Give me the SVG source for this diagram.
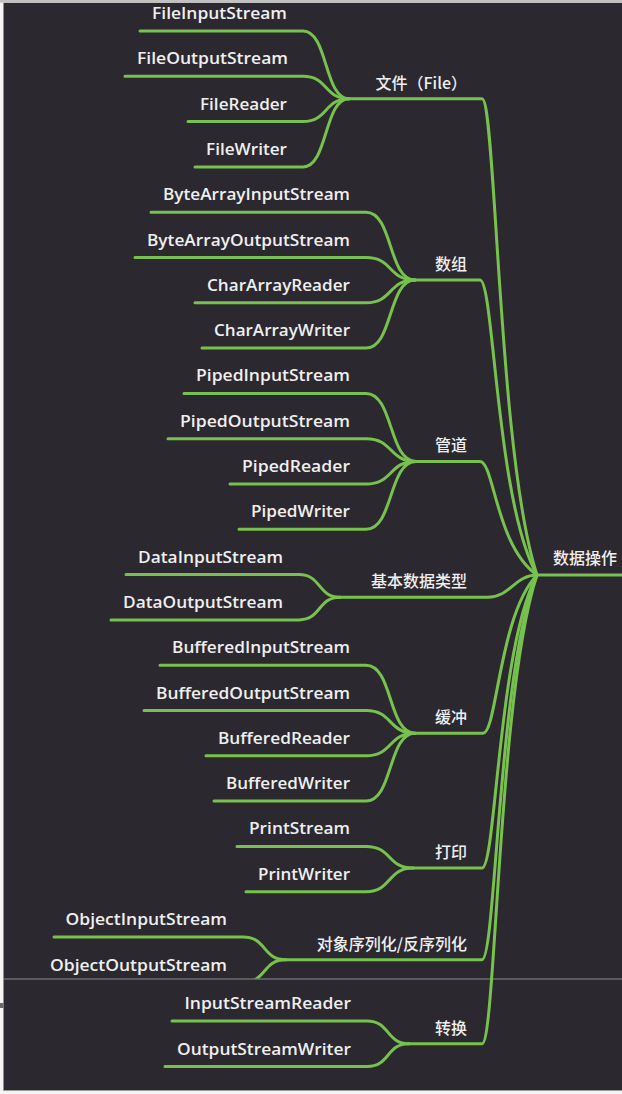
<svg xmlns="http://www.w3.org/2000/svg" width="622" height="1094" viewBox="0 0 622 1094">
<defs>
<style>
.bg{fill:#2b2830}
.ln{fill:none;stroke:#77c24e;stroke-width:3;stroke-linecap:round;stroke-linejoin:round}
.leaf{font-family:"Open Sans","DejaVu Sans",sans-serif;font-weight:600;font-size:15.5px;fill:#efefef;text-anchor:end}
.cat{font-family:"Noto Sans CJK SC","Noto Sans",sans-serif;font-weight:500;font-size:16px;fill:#efefef;text-anchor:end}
.root{font-family:"Noto Sans CJK SC","Noto Sans",sans-serif;font-weight:500;font-size:16px;fill:#efefef}
</style>
<clipPath id="upper"><rect x="0" y="0" width="622" height="978.5"/></clipPath>
</defs>
<rect x="0" y="0" width="622" height="1094" fill="#f4f4f4"/>
<rect class="bg" x="3.5" y="2.7" width="618.5" height="1088"/>
<rect x="0" y="0" width="622" height="2.7" fill="#c2c2c2"/>
<rect x="3.5" y="1090" width="618.5" height="1" fill="#9a9a9a"/>
<rect x="3.5" y="978.5" width="618.5" height="1" fill="#8c8c8c"/>
<rect x="0" y="1003" width="3.5" height="5" fill="#6a6a6a"/>

<g id="connectors">
<path class="ln" d="M537 575H622"/>
<path class="ln" d="M349 98.7H482C496 98.7 498 456 537 575"/>
<path class="ln" d="M415 280H480C494 280 496 501 537 575"/>
<path class="ln" d="M416 461.4H480C494 461.4 496 546.5 537 575"/>
<path class="ln" d="M340 597.2H488C510 597.2 515 575 537 575"/>
<path class="ln" d="M415 733.2H483C497 733.2 499 614.6 537 575"/>
<path class="ln" d="M413 868H482C496 868 498 648 537 575"/>
<path class="ln" d="M286 959.7H482C496 959.7 498 671 537 575"/>
<path class="ln" d="M409 1043.8H482C496 1043.8 498 692 537 575"/>
<path class="ln" d="M349 98.7C324 98.7 328 31 303 31H140"/>
<path class="ln" d="M349 98.7C324 98.7 328 76.3 303 76.3H125"/>
<path class="ln" d="M349 98.7C324 98.7 328 121.6 303 121.6H188"/>
<path class="ln" d="M349 98.7C324 98.7 328 166.9 303 166.9H195"/>
<path class="ln" d="M415 280C388 280 393 212.2 366 212.2H151"/>
<path class="ln" d="M415 280C388 280 393 257.5 366 257.5H135"/>
<path class="ln" d="M415 280C388 280 393 302.8 366 302.8H195"/>
<path class="ln" d="M415 280C388 280 393 348.1 366 348.1H202"/>
<path class="ln" d="M416 461.4C388.5 461.4 393.5 393.4 366 393.4H184"/>
<path class="ln" d="M416 461.4C388.5 461.4 393.5 438.7 366 438.7H168"/>
<path class="ln" d="M416 461.4C388.5 461.4 393.5 484 366 484H230"/>
<path class="ln" d="M416 461.4C388.5 461.4 393.5 529.3 366 529.3H239"/>
<path class="ln" d="M340 597.2C317.5 597.2 321.5 574.6 299 574.6H126"/>
<path class="ln" d="M340 597.2C317.5 597.2 321.5 619.9 299 619.9H111"/>
<path class="ln" d="M415 733.2C388 733.2 393 665.2 366 665.2H160"/>
<path class="ln" d="M415 733.2C388 733.2 393 710.5 366 710.5H144"/>
<path class="ln" d="M415 733.2C388 733.2 393 755.8 366 755.8H206"/>
<path class="ln" d="M415 733.2C388 733.2 393 801.1 366 801.1H214"/>
<path class="ln" d="M413 868C387 868 392 846.4 366 846.4H237"/>
<path class="ln" d="M413 868C387 868 392 891.7 366 891.7H246"/>
<path class="ln" d="M286 959.7C262 959.7 267 937 243 937H54"/>
<path class="ln" clip-path="url(#upper)" d="M286 959.7C262 959.7 267 982.3 243 982.3H38"/>
<path class="ln" d="M409 1043.8C386 1043.8 390 1021 367 1021H172"/>
<path class="ln" d="M409 1043.8C386 1043.8 390 1066.6 367 1066.6H165"/>
</g>

<g id="root"><text class="root" x="553" y="564">数据操作</text></g>

<g id="cat-file"><text class="cat" x="467" y="88.7">文件（File）</text></g>
<g id="cat-array"><text class="cat" x="467" y="270">数组</text></g>
<g id="cat-pipe"><text class="cat" x="467" y="451.4">管道</text></g>
<g id="cat-data"><text class="cat" x="467" y="587.2">基本数据类型</text></g>
<g id="cat-buffer"><text class="cat" x="467" y="723.2">缓冲</text></g>
<g id="cat-print"><text class="cat" x="467" y="858">打印</text></g>
<g id="cat-object"><text class="cat" x="467" y="949.7">对象序列化/反序列化</text></g>
<g id="cat-convert"><text class="cat" x="467" y="1033.8">转换</text></g>

<g id="leaf-fileinputstream"><text class="leaf" x="287" y="19" textLength="135" lengthAdjust="spacingAndGlyphs">FileInputStream</text></g>
<g id="leaf-fileoutputstream"><text class="leaf" x="288" y="64.3" textLength="151" lengthAdjust="spacingAndGlyphs">FileOutputStream</text></g>
<g id="leaf-filereader"><text class="leaf" x="287" y="109.6" textLength="87" lengthAdjust="spacingAndGlyphs">FileReader</text></g>
<g id="leaf-filewriter"><text class="leaf" x="287" y="154.9" textLength="81" lengthAdjust="spacingAndGlyphs">FileWriter</text></g>

<g id="leaf-bytearrayinputstream"><text class="leaf" x="350" y="200.2" textLength="187" lengthAdjust="spacingAndGlyphs">ByteArrayInputStream</text></g>
<g id="leaf-bytearrayoutputstream"><text class="leaf" x="350" y="245.5" textLength="203" lengthAdjust="spacingAndGlyphs">ByteArrayOutputStream</text></g>
<g id="leaf-chararrayreader"><text class="leaf" x="350" y="290.8" textLength="143" lengthAdjust="spacingAndGlyphs">CharArrayReader</text></g>
<g id="leaf-chararraywriter"><text class="leaf" x="350" y="336.1" textLength="136" lengthAdjust="spacingAndGlyphs">CharArrayWriter</text></g>

<g id="leaf-pipedinputstream"><text class="leaf" x="350" y="381.4" textLength="154" lengthAdjust="spacingAndGlyphs">PipedInputStream</text></g>
<g id="leaf-pipedoutputstream"><text class="leaf" x="350" y="426.7" textLength="170" lengthAdjust="spacingAndGlyphs">PipedOutputStream</text></g>
<g id="leaf-pipedreader"><text class="leaf" x="350" y="472" textLength="108" lengthAdjust="spacingAndGlyphs">PipedReader</text></g>
<g id="leaf-pipedwriter"><text class="leaf" x="350" y="517.3" textLength="99" lengthAdjust="spacingAndGlyphs">PipedWriter</text></g>

<g id="leaf-datainputstream"><text class="leaf" x="283" y="562.6" textLength="145" lengthAdjust="spacingAndGlyphs">DataInputStream</text></g>
<g id="leaf-dataoutputstream"><text class="leaf" x="283" y="607.9" textLength="160" lengthAdjust="spacingAndGlyphs">DataOutputStream</text></g>

<g id="leaf-bufferedinputstream"><text class="leaf" x="350" y="653.2" textLength="178" lengthAdjust="spacingAndGlyphs">BufferedInputStream</text></g>
<g id="leaf-bufferedoutputstream"><text class="leaf" x="350" y="698.5" textLength="194" lengthAdjust="spacingAndGlyphs">BufferedOutputStream</text></g>
<g id="leaf-bufferedreader"><text class="leaf" x="350" y="743.8" textLength="132" lengthAdjust="spacingAndGlyphs">BufferedReader</text></g>
<g id="leaf-bufferedwriter"><text class="leaf" x="350" y="789.1" textLength="124" lengthAdjust="spacingAndGlyphs">BufferedWriter</text></g>

<g id="leaf-printstream"><text class="leaf" x="350" y="834.4" textLength="101" lengthAdjust="spacingAndGlyphs">PrintStream</text></g>
<g id="leaf-printwriter"><text class="leaf" x="350" y="879.7" textLength="92" lengthAdjust="spacingAndGlyphs">PrintWriter</text></g>

<g id="leaf-objectinputstream"><text class="leaf" x="227" y="925" textLength="161.5" lengthAdjust="spacingAndGlyphs">ObjectInputStream</text></g>
<g id="leaf-objectoutputstream"><text class="leaf" x="227" y="970.5" textLength="177" lengthAdjust="spacingAndGlyphs">ObjectOutputStream</text></g>

<g id="leaf-inputstreamreader"><text class="leaf" x="351" y="1009" textLength="166.5" lengthAdjust="spacingAndGlyphs">InputStreamReader</text></g>
<g id="leaf-outputstreamwriter"><text class="leaf" x="351" y="1054.6" textLength="174" lengthAdjust="spacingAndGlyphs">OutputStreamWriter</text></g>
</svg>
